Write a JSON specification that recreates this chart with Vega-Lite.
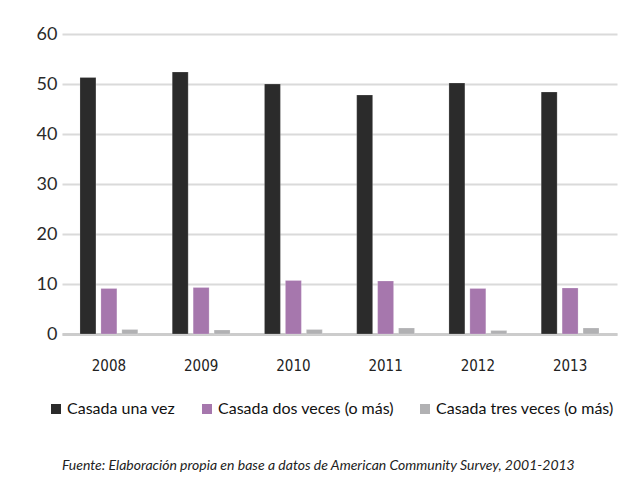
{
  "$schema": "https://vega.github.io/schema/vega-lite/v6.json",
  "width": 555,
  "height": 300,
  "autosize": "none",
  "padding": {"left": 62, "top": 34, "right": 18, "bottom": 162},
  "background": "white",
  "data": {
    "values": [
      {"year": "2008", "serie": "Casada una vez", "valor": 51.3},
      {"year": "2008", "serie": "Casada dos veces (o más)", "valor": 9.1},
      {"year": "2008", "serie": "Casada tres veces (o más)", "valor": 0.9},
      {"year": "2009", "serie": "Casada una vez", "valor": 52.4},
      {"year": "2009", "serie": "Casada dos veces (o más)", "valor": 9.3},
      {"year": "2009", "serie": "Casada tres veces (o más)", "valor": 0.8},
      {"year": "2010", "serie": "Casada una vez", "valor": 50.0},
      {"year": "2010", "serie": "Casada dos veces (o más)", "valor": 10.7},
      {"year": "2010", "serie": "Casada tres veces (o más)", "valor": 0.9},
      {"year": "2011", "serie": "Casada una vez", "valor": 47.8},
      {"year": "2011", "serie": "Casada dos veces (o más)", "valor": 10.6},
      {"year": "2011", "serie": "Casada tres veces (o más)", "valor": 1.2},
      {"year": "2012", "serie": "Casada una vez", "valor": 50.2},
      {"year": "2012", "serie": "Casada dos veces (o más)", "valor": 9.1},
      {"year": "2012", "serie": "Casada tres veces (o más)", "valor": 0.7},
      {"year": "2013", "serie": "Casada una vez", "valor": 48.4},
      {"year": "2013", "serie": "Casada dos veces (o más)", "valor": 9.2},
      {"year": "2013", "serie": "Casada tres veces (o más)", "valor": 1.2}
    ]
  },
  "title": {
    "text": "Fuente: Elaboración propia en base a datos de American Community Survey, 2001-2013",
    "orient": "bottom",
    "anchor": "start",
    "frame": "group",
    "font": "Lato",
    "fontSize": 14,
    "fontStyle": "italic",
    "fontWeight": "normal",
    "color": "#222222",
    "offset": 42
  },
  "mark": {"type": "bar", "stroke": "#ffffff", "strokeOpacity": 0.4, "strokeWidth": 0.5},
  "encoding": {
    "x": {
      "field": "year",
      "type": "nominal",
      "scale": {"paddingInner": 0.373, "paddingOuter": 0.195},
      "axis": {
        "title": null,
        "labelAngle": 0,
        "labelFont": "DejaVu Sans Condensed, Liberation Sans Narrow, Arial Narrow, sans-serif",
        "labelFontSize": 15,
        "labelColor": "#222222",
        "labelPadding": 24,
        "ticks": false,
        "domain": true,
        "domainColor": "#cccccc",
        "domainWidth": 3
      }
    },
    "xOffset": {
      "field": "serie",
      "type": "nominal",
      "sort": ["Casada una vez", "Casada dos veces (o más)", "Casada tres veces (o más)"],
      "scale": {"paddingInner": 0.238, "paddingOuter": 0}
    },
    "y": {
      "field": "valor",
      "type": "quantitative",
      "scale": {"domain": [0, 60]},
      "axis": {
        "title": null,
        "values": [0, 10, 20, 30, 40, 50, 60],
        "labelFont": "Lato",
        "labelFontSize": 18,
        "labelColor": "#2a2a2a",
        "labelPadding": 5,
        "ticks": false,
        "domain": false,
        "gridColor": "#dadada",
        "gridWidth": 2
      }
    },
    "color": {
      "field": "serie",
      "type": "nominal",
      "sort": ["Casada una vez", "Casada dos veces (o más)", "Casada tres veces (o más)"],
      "scale": {
        "domain": ["Casada una vez", "Casada dos veces (o más)", "Casada tres veces (o más)"],
        "range": ["#2b2b2b", "#a677ad", "#b1b1b3"]
      },
      "legend": {
        "title": null,
        "orient": "none",
        "direction": "horizontal",
        "legendX": -14,
        "legendY": 367,
        "symbolType": "square",
        "symbolSize": 100,
        "symbolStrokeWidth": 0,
        "symbolOpacity": 1,
        "labelFont": "Lato",
        "labelFontSize": 16,
        "labelColor": "#111111",
        "labelOffset": 3,
        "labelLimit": 300,
        "columnPadding": 23
      }
    }
  },
  "config": {
    "view": {"stroke": null}
  }
}
